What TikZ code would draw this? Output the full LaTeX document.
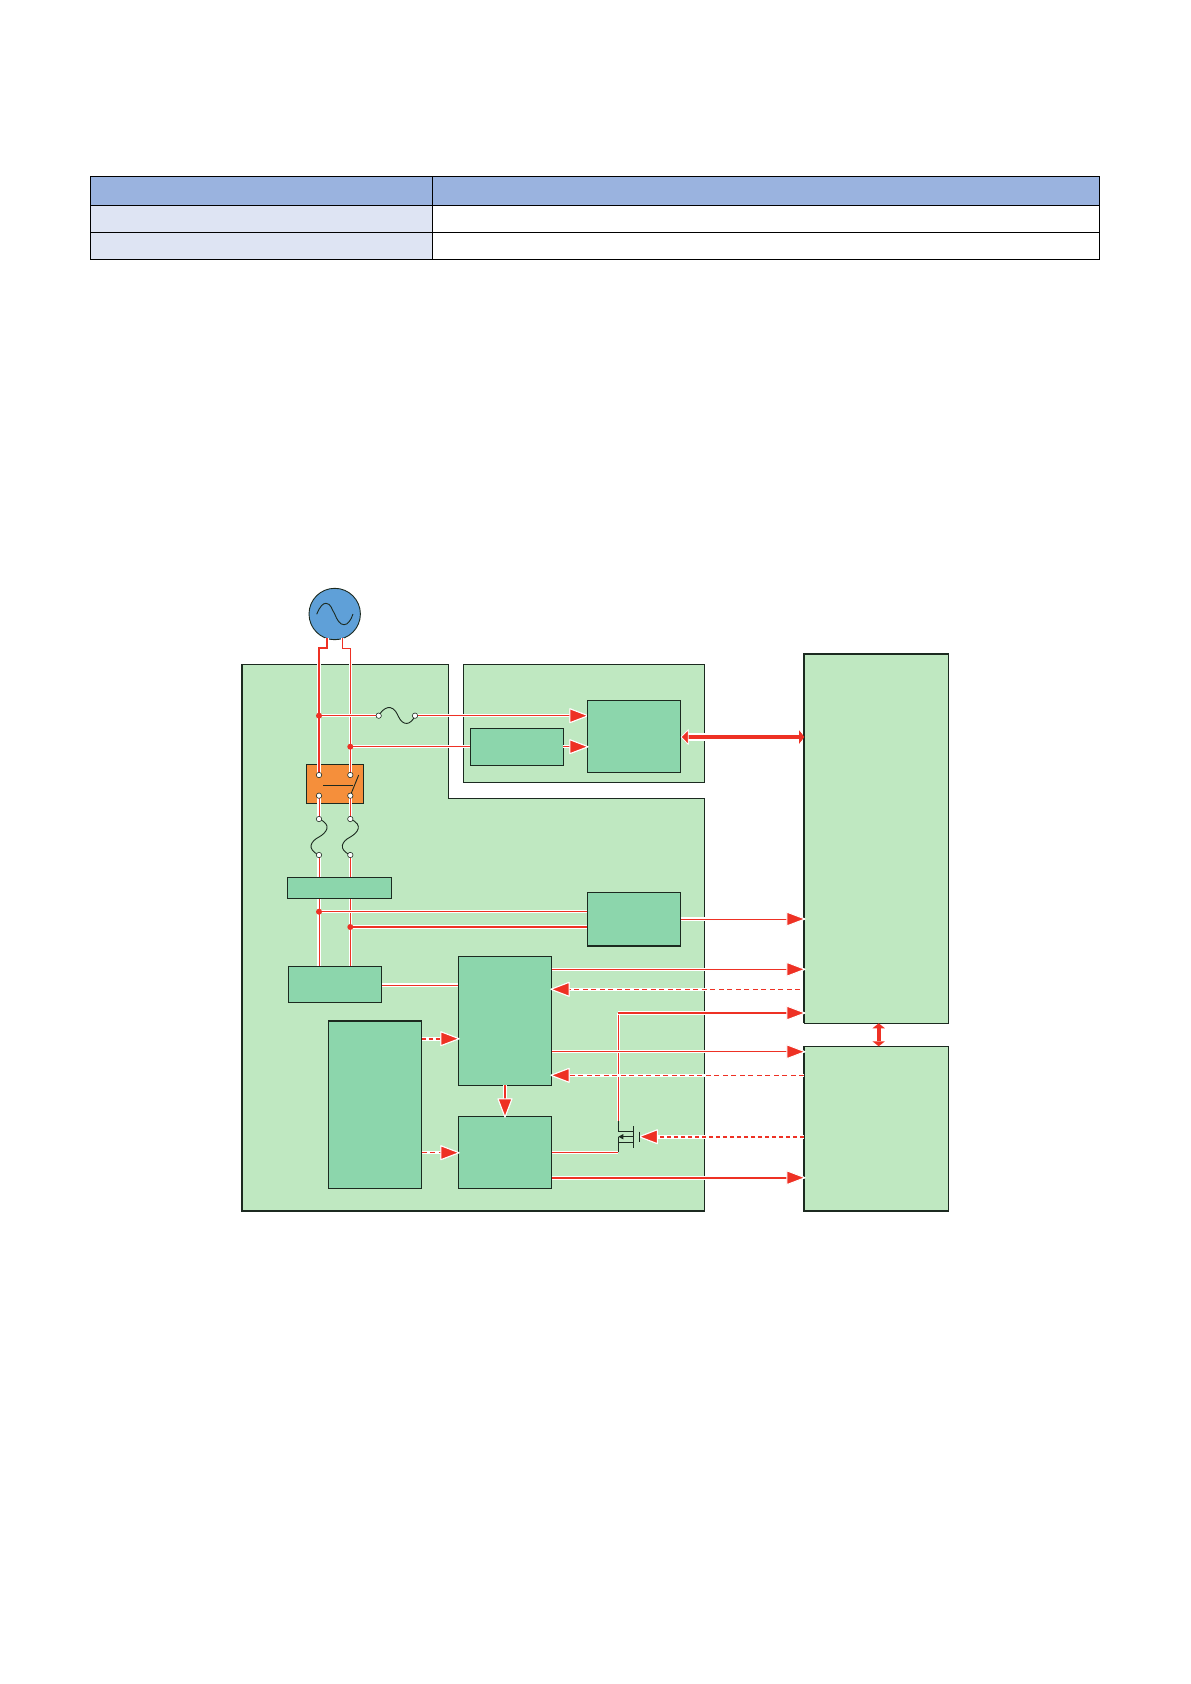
\documentclass[tikz,border=0pt]{standalone}
\usetikzlibrary{arrows.meta}
\pgfdeclarelayer{top}
\pgfsetlayers{main,top}
\definecolor{panelgreen}{HTML}{BFE8C1}
\definecolor{boxgreen}{HTML}{8CD6AC}
\definecolor{relayorange}{HTML}{F58F3B}
\definecolor{acblue}{HTML}{5FA0D8}
\definecolor{wirered}{HTML}{EE3124}
\definecolor{headblue}{HTML}{9AB3DF}
\definecolor{rowblue}{HTML}{DEE4F3}
\definecolor{inkline}{HTML}{1C2A20}
\tikzset{
  cell/.style={draw=black,line width=.9pt,rectangle,inner sep=0pt,outer sep=0pt,anchor=north west},
  panel/.style={cell,fill=panelgreen,draw=inkline,line width=.9pt},
  gbox/.style={cell,fill=boxgreen,draw=inkline,line width=.9pt},
  wire/.style={draw=wirered,line width=1pt,preaction={draw=white,line width=3.4pt}},
  heavywire/.style={draw=wirered,line width=2.4pt,preaction={draw=white,line width=4.4pt}},
  dashwire/.style={draw=wirered,line width=1pt,dash pattern=on 5pt off 3.5pt,preaction={draw=white,line width=3.4pt,solid}},
  dashheavy/.style={draw=wirered,line width=2pt,dash pattern=on 4.5pt off 2.5pt,preaction={draw=white,line width=4.2pt,solid}},
  rtip/.tip={Triangle[round,length=20pt,width=15pt,fill=wirered,color=white,line width=1pt]},
  tipped/.style={-rtip,shorten >=-1.2pt},
  term/.style={circle,draw=inkline,fill=white,line width=.6pt,inner sep=0pt,minimum size=5.4pt},
  dot/.style={circle,fill=wirered,inner sep=0pt,outer sep=0pt,minimum size=6pt},
  sym/.style={draw=inkline,line width=.9pt},
}
\newcommand{\rectnode}[6]{%
  \pgfmathsetmacro{\rw}{#5-#3}\pgfmathsetmacro{\rh}{#6-#4}%
  \node[#2,minimum width=\rw pt,minimum height=\rh pt] (#1) at (#3,#4) {};}
\begin{document}
\begin{tikzpicture}[x=1pt,y=-1pt]
\useasboundingbox (0,0) rectangle (1191,1684);
% table
\rectnode{thA}{cell,fill=headblue}{90.3}{176.3}{432.3}{205.3}
\rectnode{thB}{cell,fill=headblue}{432.3}{176.3}{1099.3}{205.3}
\rectnode{rA}{cell,fill=rowblue}{90.3}{205.3}{432.3}{232.3}
\rectnode{rB}{cell,fill=white}{432.3}{205.3}{1099.3}{232.3}
\rectnode{sA}{cell,fill=rowblue}{90.3}{232.3}{432.3}{259.3}
\rectnode{sB}{cell,fill=white}{432.3}{232.3}{1099.3}{259.3}
% panels
\draw[fill=panelgreen,draw=inkline,line width=1pt] (242,664.3) -- (448.7,664.3) -- (448.7,798.3) -- (704.3,798.3) -- (704.3,1211) -- (242,1211) -- cycle;
\draw[inkline,line width=1.4pt] (242,664.3) -- (242,1211) -- (704.3,1211);
\rectnode{pB}{panel}{463.3}{664.3}{704.7}{782.3}
\rectnode{pC}{panel}{804.2}{654}{948.7}{1023.3}
\rectnode{pD}{panel}{804.2}{1046.3}{948.7}{1211}
\draw[inkline,line width=1.5pt] (pC.south west) -- (pC.north west) -- (pC.north east);
\draw[inkline,line width=1.5pt] (pD.north west) -- (pD.south west) -- (pD.south east);
% orange relay
\rectnode{relay}{cell,fill=relayorange,draw=inkline}{306.3}{764.3}{363.7}{803.3}
% terminals and junctions (positions)
\node[circle,fill=acblue,draw=inkline,line width=.9pt,minimum size=51.4pt,inner sep=0pt] (ac) at (334.7,614) {};
\coordinate (sL) at (327,638);
\coordinate (sR) at (342.3,638);
\begin{pgfonlayer}{top}
\node[dot] (j1) at (319,715.7) {};
\node[dot] (j2) at (350.3,746.7) {};
\node[dot] (j3) at (319,911.7) {};
\node[dot] (j4) at (350.3,927) {};
\end{pgfonlayer}
\coordinate (a1) at (319,775);
\coordinate (a2) at (350.3,775);
\coordinate (b1) at (319,795.7);
\coordinate (b2) at (350.3,795.7);
\coordinate (c1) at (319,819);
\coordinate (c2) at (350.3,819);
\coordinate (d1) at (319,855);
\coordinate (d2) at (350.3,855);
\coordinate (fa) at (378.7,715.7);
\coordinate (fb) at (415,715.7);
\coordinate (kink) at (618.3,1013);
\coordinate (mosTop) at (618.3,1120.7);
\coordinate (mosBot) at (618.3,1152.3);
\coordinate (gate) at (640,1136.7);
% wires
\draw[wire,line width=1.8pt] (sL) -- (327,648) -- (321,648);
\draw[wire,line width=1.1pt] (321,648) -- (319,648) -- (a1);
\draw[wire] (sR) -- (342.3,648) -- (350.3,648) -- (a2);
\draw[wire] (b1) -- (c1);
\draw[wire] (b2) -- (c2);
\draw[wire] (d1) -- (319,966.3);
\draw[wire] (d2) -- (350.3,966.3);
\draw[wire] (j1.center) -- (fa);
\draw[wire,tipped] (fb) -- (587.3,715.7);
\draw[wire] (j2.center) -- (470.3,746.7);
\draw[wire] (j3.center) -- (587.3,911.7);
\draw[heavywire] (j4.center) -- (587.3,927);
\draw[wire] (381.7,985) -- (458.3,985);
% green boxes
\rectnode{bA}{gbox}{587.3}{700.3}{680.7}{772.3}
\rectnode{bB}{gbox}{470.3}{728.3}{563.3}{765.3}
\rectnode{bThin}{gbox}{287.3}{877.7}{391.7}{898.3}
\rectnode{bE}{gbox}{587.3}{892.3}{680.7}{946}
\rectnode{bPwr}{gbox}{288.3}{966.3}{381.7}{1002.3}
\rectnode{bTall}{gbox}{328.3}{1021}{421.7}{1188.3}
\rectnode{bMid}{gbox}{458.3}{956.3}{551.7}{1085.3}
\rectnode{bLow}{gbox}{458.3}{1116.3}{551.7}{1188.3}
\draw[inkline,line width=1.5pt] (bB.south west) -- (bB.south east) -- (bB.north east);
\draw[inkline,line width=1.5pt] (bThin.north west) -- (bThin.north east);
\draw[inkline,line width=1.5pt] (bE.south west) -- (bE.south east);
\draw[inkline,line width=1.5pt] (bTall.north west) -- (bTall.north east);
% connectors between boxes
\draw[wire,tipped] (bB.east |- 0,746.7) -- (bA.west |- 0,746.7);
\draw[wire,tipped] (bE.east |- 0,919) -- (pC.west |- 0,919);
\draw[wire,tipped] (bMid.east |- 0,969.3) -- (pC.west |- 0,969.3);
\draw[dashwire,tipped] (800,989.3) -- (bMid.east |- 0,989.3);
\draw[wire] (mosTop) -- (kink);
\draw[heavywire,tipped] (kink) -- (pC.west |- kink);
\draw[wire,tipped] (bMid.east |- 0,1051.7) -- (pD.west |- 0,1051.7);
\draw[dashwire,tipped] (pD.west |- 0,1075.3) -- (bMid.east |- 0,1075.3);
\draw[dashheavy,tipped] (bTall.east |- 0,1038.7) -- (bMid.west |- 0,1038.7);
\draw[dashwire,line width=1.3pt,tipped] (bTall.east |- 0,1152.7) -- (bLow.west |- 0,1152.7);
\draw[heavywire,tipped] (bMid.south) -- (bLow.north);
\draw[wire] (bLow.east |- mosBot) -- (mosBot);
\draw[heavywire,tipped] (bLow.east |- 0,1177.7) -- (pD.west |- 0,1177.7);
\draw[dashheavy,tipped] (pD.west |- gate) -- (gate);
\draw[draw=wirered,line width=4.6pt,preaction={draw=white,line width=7.4pt},{Triangle[round,length=8pt,width=16pt,fill=wirered,color=white,line width=.7pt]}-{Triangle[length=5pt,width=13pt,fill=wirered,color=wirered,line width=0pt]}] (bA.east |- 0,737) -- (pC.west |- 0,737);
\draw[draw=wirered,line width=3.6pt,{Triangle[length=5pt,width=12.5pt,fill=wirered,color=wirered,line width=0pt]}-{Triangle[length=5pt,width=12.5pt,fill=wirered,color=wirered,line width=0pt]}] (pC.south -| 878.7,0) -- (pD.north -| 878.7,0);
% AC source symbol
\draw[sym] (316.7,614.3) .. controls (320,606) and (323,603.3) .. (326,603.3) .. controls (331,603.3) and (332,610) .. (334.7,614) .. controls (337,620) and (340,624.7) .. (344,624.7) .. controls (348,624.7) and (351,620) .. (353,614);
% switch
\draw[sym] (323.3,785.3) -- (353.3,785.3);
\draw[sym] (b2) -- (358.7,775);
% fuses
\draw[sym] (fa) .. controls (383,708) and (392,702) .. (398,715.7) .. controls (403,727) and (411,725) .. (fb);
\draw[sym] (c1) .. controls (333,825) and (326,833) .. (319,837) .. controls (311,841) and (306,849) .. (d1);
\draw[sym] (c2) .. controls (364.3,825) and (357.3,833) .. (350.3,837) .. controls (342.3,841) and (337.3,849) .. (d2);
% terminal circles
\foreach \p in {a1,a2,b1,b2,c1,c2,d1,d2,fa,fb} \node[term] (t\p) at (\p) {};
% MOSFET
\draw[inkline,line width=.8pt] (mosTop) -- (618.3,1131.7) -- (633.3,1131.7);
\draw[inkline,line width=.8pt] (mosBot) -- (618.3,1142.3) -- (633.3,1142.3);
\draw[inkline,line width=.9pt] (633.3,1126) -- (633.3,1147.7);
\draw[inkline,line width=.9pt] (639.3,1131.7) -- (639.3,1142.3);
\draw[inkline,line width=1.2pt,-{Triangle[length=5pt,width=5pt]}] (633.3,1136.7) -- (618.3,1136.7);
\draw[inkline,line width=.8pt] (618.3,1136.7) -- (618.3,1142.3);
\end{tikzpicture}
\end{document}
